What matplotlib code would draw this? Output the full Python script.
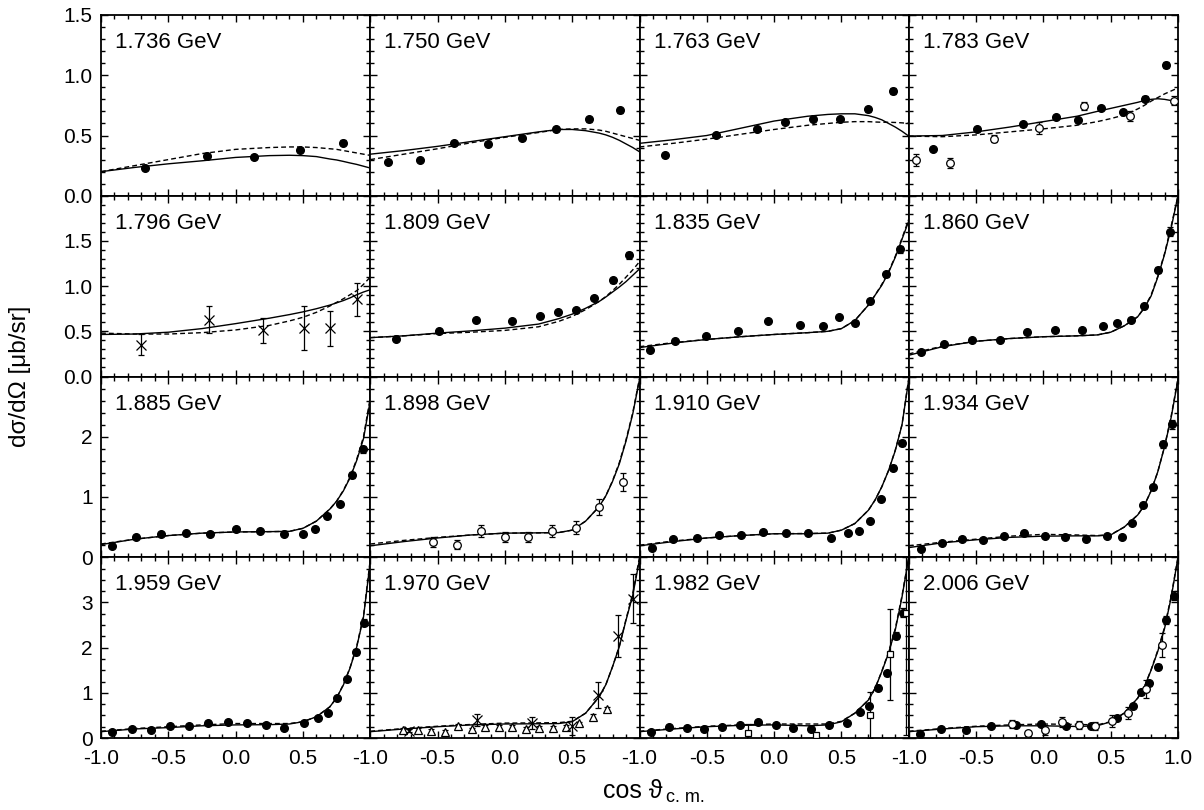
"""
eta photoproduction style grid: dσ/dΩ vs cos θ for 16 energies.
"""

import numpy as np
import matplotlib.pyplot as plt
from matplotlib.ticker import MultipleLocator, FixedLocator, FixedFormatter

plt.rcParams['font.family'] = ['Liberation Sans', 'DejaVu Sans']

# ============================================
# Data
# ============================================

energies = ["1.736", "1.750", "1.763", "1.783",
            "1.796", "1.809", "1.835", "1.860",
            "1.885", "1.898", "1.910", "1.934",
            "1.959", "1.970", "1.982", "2.006"]

row_ymax = [1.5, 2.0, 3.0, 4.0]

curve_x = [-1.0, -0.75, -0.5, -0.25, 0.0, 0.25, 0.4, 0.5,
           0.6, 0.7, 0.75, 0.8, 0.85, 0.9, 0.95, 1.0]

solid_y = [
    [0.20, 0.235, 0.265, 0.29, 0.318, 0.333, 0.336, 0.333, 0.325, 0.305, 0.297, 0.285, 0.272, 0.26, 0.245, 0.23],
    [0.345, 0.375, 0.41, 0.45, 0.49, 0.53, 0.55, 0.55, 0.54, 0.52, 0.505, 0.485, 0.46, 0.43, 0.40, 0.365],
    [0.435, 0.465, 0.50, 0.56, 0.62, 0.66, 0.675, 0.68, 0.68, 0.665, 0.65, 0.63, 0.60, 0.57, 0.535, 0.495],
    [0.495, 0.50, 0.53, 0.57, 0.615, 0.66, 0.70, 0.725, 0.75, 0.775, 0.79, 0.80, 0.805, 0.80, 0.79, 0.77],
    [0.465, 0.47, 0.49, 0.53, 0.585, 0.645, 0.685, 0.715, 0.75, 0.79, 0.815, 0.84, 0.87, 0.905, 0.935, 0.96],
    [0.43, 0.45, 0.48, 0.505, 0.535, 0.58, 0.64, 0.69, 0.755, 0.83, 0.88, 0.935, 0.99, 1.05, 1.12, 1.19],
    [0.32, 0.37, 0.41, 0.44, 0.465, 0.485, 0.50, 0.53, 0.62, 0.79, 0.90, 1.01, 1.15, 1.32, 1.52, 1.72],
    [0.235, 0.33, 0.39, 0.42, 0.44, 0.45, 0.46, 0.49, 0.56, 0.66, 0.76, 0.89, 1.10, 1.35, 1.65, 2.0],
    [0.21, 0.30, 0.36, 0.40, 0.42, 0.425, 0.43, 0.48, 0.60, 0.80, 0.93, 1.10, 1.32, 1.61, 1.97, 2.6],
    [0.19, 0.26, 0.32, 0.37, 0.40, 0.405, 0.41, 0.45, 0.60, 0.84, 1.02, 1.26, 1.55, 1.93, 2.38, 2.95],
    [0.19, 0.26, 0.32, 0.36, 0.39, 0.39, 0.40, 0.45, 0.56, 0.78, 0.95, 1.17, 1.44, 1.77, 2.2, 2.95],
    [0.16, 0.24, 0.29, 0.33, 0.35, 0.355, 0.355, 0.37, 0.50, 0.70, 0.86, 1.10, 1.42, 1.83, 2.33, 2.95],
    [0.14, 0.20, 0.23, 0.27, 0.29, 0.295, 0.31, 0.36, 0.47, 0.69, 0.89, 1.17, 1.55, 2.02, 2.68, 3.9],
    [0.14, 0.20, 0.25, 0.29, 0.31, 0.315, 0.32, 0.36, 0.55, 0.91, 1.18, 1.58, 2.02, 2.61, 3.16, 3.95],
    [0.14, 0.20, 0.25, 0.28, 0.29, 0.27, 0.29, 0.36, 0.55, 0.84, 1.10, 1.47, 1.88, 2.39, 3.12, 4.0],
    [0.14, 0.20, 0.25, 0.27, 0.27, 0.255, 0.27, 0.36, 0.55, 0.88, 1.13, 1.50, 1.92, 2.42, 3.12, 4.0],
]

dashed_y = [
    [0.20, 0.25, 0.30, 0.35, 0.385, 0.40, 0.405, 0.405, 0.40, 0.39, 0.385, 0.375, 0.365, 0.355, 0.345, 0.335],
    [0.30, 0.345, 0.39, 0.44, 0.485, 0.525, 0.55, 0.555, 0.555, 0.545, 0.535, 0.52, 0.505, 0.49, 0.475, 0.46],
    [0.405, 0.435, 0.47, 0.51, 0.55, 0.585, 0.60, 0.61, 0.615, 0.615, 0.612, 0.61, 0.61, 0.608, 0.605, 0.60],
    [0.495, 0.49, 0.505, 0.53, 0.555, 0.585, 0.615, 0.64, 0.67, 0.72, 0.75, 0.785, 0.815, 0.845, 0.87, 0.895],
    [0.48, 0.47, 0.47, 0.485, 0.515, 0.565, 0.615, 0.655, 0.71, 0.78, 0.82, 0.86, 0.905, 0.95, 1.02, 1.10],
    [0.43, 0.45, 0.475, 0.49, 0.51, 0.55, 0.61, 0.665, 0.74, 0.83, 0.885, 0.95, 1.02, 1.10, 1.18, 1.27],
    [0.33, 0.375, 0.41, 0.44, 0.465, 0.485, 0.50, 0.53, 0.62, 0.79, 0.90, 1.02, 1.16, 1.33, 1.53, 1.74],
    [0.25, 0.335, 0.39, 0.42, 0.44, 0.45, 0.46, 0.49, 0.56, 0.66, 0.76, 0.90, 1.11, 1.36, 1.67, 2.0],
    [0.22, 0.30, 0.36, 0.40, 0.42, 0.425, 0.43, 0.48, 0.60, 0.80, 0.93, 1.11, 1.33, 1.63, 2.0, 2.65],
    [0.22, 0.28, 0.33, 0.37, 0.40, 0.405, 0.41, 0.45, 0.60, 0.84, 1.02, 1.27, 1.57, 1.95, 2.40, 2.97],
    [0.20, 0.27, 0.32, 0.36, 0.39, 0.395, 0.40, 0.45, 0.56, 0.78, 0.95, 1.17, 1.44, 1.78, 2.2, 2.97],
    [0.19, 0.25, 0.30, 0.35, 0.38, 0.37, 0.36, 0.375, 0.50, 0.70, 0.86, 1.10, 1.42, 1.84, 2.35, 2.97],
    [0.15, 0.21, 0.25, 0.29, 0.32, 0.32, 0.32, 0.36, 0.47, 0.69, 0.89, 1.18, 1.56, 2.04, 2.70, 3.95],
    [0.15, 0.21, 0.26, 0.30, 0.33, 0.335, 0.34, 0.37, 0.55, 0.91, 1.18, 1.58, 2.03, 2.63, 3.20, 4.0],
    [0.15, 0.21, 0.26, 0.29, 0.31, 0.31, 0.31, 0.37, 0.55, 0.84, 1.10, 1.48, 1.90, 2.42, 3.15, 4.0],
    [0.15, 0.21, 0.26, 0.29, 0.31, 0.30, 0.29, 0.36, 0.55, 0.88, 1.13, 1.51, 1.94, 2.45, 3.15, 4.0],
]

# filled circles (x, y, err) per panel
filled_x = [
    [-0.67, -0.21, 0.137, 0.48, 0.80],
    [-0.865, -0.63, -0.377, -0.127, 0.125, 0.378, 0.628, 0.856],
    [-0.81, -0.433, -0.129, 0.082, 0.287, 0.49, 0.696, 0.88],
    [-0.82, -0.49, -0.155, 0.093, 0.26, 0.43, 0.59, 0.756, 0.91],
    [],
    [-0.81, -0.487, -0.214, 0.056, 0.26, 0.393, 0.529, 0.665, 0.80, 0.923],
    [-0.92, -0.736, -0.505, -0.27, -0.042, 0.193, 0.366, 0.485, 0.60, 0.713, 0.832, 0.936],
    [-0.91, -0.735, -0.527, -0.321, -0.118, 0.088, 0.29, 0.442, 0.546, 0.65, 0.751, 0.85, 0.942],
    [-0.916, -0.74, -0.557, -0.371, -0.188, 0.0, 0.18, 0.362, 0.5, 0.59, 0.68, 0.776, 0.862, 0.944],
    [],
    [-0.909, -0.748, -0.574, -0.409, -0.245, -0.08, 0.087, 0.255, 0.421, 0.548, 0.63, 0.713, 0.797, 0.882, 0.953],
    [-0.91, -0.754, -0.603, -0.45, -0.296, -0.143, 0.011, 0.162, 0.318, 0.472, 0.583, 0.662, 0.739, 0.814, 0.892, 0.959],
    [-0.916, -0.77, -0.631, -0.487, -0.344, -0.203, -0.059, 0.082, 0.224, 0.362, 0.506, 0.614, 0.684, 0.756, 0.825, 0.894, 0.956],
    [],
    [-0.916, -0.78, -0.649, -0.518, -0.384, -0.253, -0.121, 0.013, 0.143, 0.275, 0.411, 0.54, 0.639, 0.708, 0.77, 0.837, 0.906, 0.961],
    [-0.92, -0.759, -0.574, -0.39, -0.202, -0.019, 0.169, 0.355, 0.546, 0.669, 0.727, 0.788, 0.848, 0.912, 0.967],
]
filled_y = [
    [0.231, 0.33, 0.32, 0.378, 0.44],
    [0.281, 0.30, 0.44, 0.428, 0.48, 0.555, 0.633, 0.71],
    [0.337, 0.503, 0.558, 0.608, 0.64, 0.636, 0.716, 0.869],
    [0.392, 0.553, 0.592, 0.65, 0.628, 0.725, 0.697, 0.805, 1.082],
    [],
    [0.418, 0.502, 0.62, 0.61, 0.665, 0.713, 0.731, 0.872, 1.064, 1.34],
    [0.295, 0.391, 0.443, 0.506, 0.613, 0.573, 0.557, 0.657, 0.595, 0.834, 1.13, 1.407],
    [0.27, 0.355, 0.40, 0.40, 0.495, 0.51, 0.517, 0.554, 0.595, 0.628, 0.779, 1.18, 1.60],
    [0.187, 0.332, 0.387, 0.404, 0.392, 0.475, 0.442, 0.381, 0.392, 0.475, 0.685, 0.879, 1.36, 1.79],
    [],
    [0.155, 0.298, 0.326, 0.37, 0.37, 0.415, 0.403, 0.403, 0.326, 0.403, 0.436, 0.608, 0.973, 1.487, 1.90],
    [0.133, 0.243, 0.31, 0.293, 0.354, 0.403, 0.354, 0.337, 0.31, 0.354, 0.337, 0.575, 0.874, 1.166, 1.874, 2.206],
    [0.14, 0.206, 0.184, 0.272, 0.272, 0.324, 0.346, 0.324, 0.295, 0.228, 0.331, 0.449, 0.545, 0.877, 1.304, 1.90, 2.55],
    [],
    [0.14, 0.25, 0.228, 0.199, 0.25, 0.287, 0.36, 0.287, 0.228, 0.192, 0.28, 0.339, 0.582, 0.707, 1.112, 1.429, 2.26, 2.77],
    [0.088, 0.206, 0.177, 0.272, 0.287, 0.302, 0.272, 0.265, 0.435, 0.714, 1.01, 1.208, 1.576, 2.61, 3.145],
]
filled_e = [
    [0.015, 0.015, 0.015, 0.015, 0.02],
    [0.015, 0.015, 0.015, 0.015, 0.015, 0.015, 0.02, 0.02],
    [0.015, 0.015, 0.015, 0.015, 0.015, 0.015, 0.02, 0.025],
    [0.015, 0.015, 0.015, 0.015, 0.015, 0.015, 0.015, 0.02, 0.025],
    [],
    [0.015, 0.015, 0.015, 0.015, 0.015, 0.015, 0.015, 0.02, 0.025, 0.035],
    [0.02, 0.015, 0.015, 0.015, 0.015, 0.015, 0.015, 0.015, 0.015, 0.02, 0.03, 0.04],
    [0.02, 0.015, 0.015, 0.015, 0.015, 0.015, 0.015, 0.015, 0.015, 0.015, 0.02, 0.035, 0.05],
    [0.02, 0.02, 0.02, 0.02, 0.02, 0.02, 0.02, 0.02, 0.02, 0.02, 0.03, 0.03, 0.05, 0.06],
    [],
    [0.02, 0.02, 0.02, 0.02, 0.02, 0.02, 0.02, 0.02, 0.02, 0.02, 0.02, 0.02, 0.03, 0.04, 0.05],
    [0.02, 0.02, 0.02, 0.02, 0.02, 0.02, 0.02, 0.02, 0.02, 0.02, 0.02, 0.03, 0.03, 0.04, 0.06, 0.08],
    [0.03, 0.03, 0.03, 0.03, 0.03, 0.03, 0.03, 0.03, 0.03, 0.03, 0.03, 0.03, 0.03, 0.04, 0.05, 0.06, 0.08],
    [],
    [0.03, 0.03, 0.03, 0.03, 0.03, 0.03, 0.03, 0.03, 0.03, 0.03, 0.03, 0.03, 0.04, 0.05, 0.05, 0.06, 0.08, 0.1],
    [0.03, 0.03, 0.03, 0.03, 0.03, 0.03, 0.03, 0.03, 0.03, 0.04, 0.05, 0.05, 0.06, 0.08, 0.1],
]

# open circles: panel index -> (x, y, err)
open_pts = {
    3: ([-0.945, -0.69, -0.366, -0.03, 0.30, 0.64, 0.97],
        [0.30, 0.273, 0.475, 0.564, 0.744, 0.664, 0.79],
        [0.05, 0.04, 0.03, 0.05, 0.03, 0.04, 0.04]),
    9: ([-0.531, -0.353, -0.179, 0.0, 0.17, 0.348, 0.527, 0.70, 0.876],
        [0.254, 0.21, 0.436, 0.337, 0.337, 0.436, 0.492, 0.829, 1.249],
        [0.083, 0.07, 0.10, 0.09, 0.09, 0.10, 0.108, 0.133, 0.146]),
    15: ([-0.234, -0.111, 0.013, 0.137, 0.261, 0.385, 0.509, 0.632, 0.764, 0.88],
         [0.309, 0.103, 0.177, 0.36, 0.28, 0.265, 0.383, 0.56, 1.083, 2.055],
         [0.08, 0.06, 0.10, 0.11, 0.09, 0.09, 0.13, 0.13, 0.2, 0.26]),
}

# crosses
cross_pts = {
    4: ([-0.705, -0.2, 0.206, 0.508, 0.70, 0.90],
        [0.351, 0.628, 0.51, 0.535, 0.535, 0.853],
        [0.117, 0.148, 0.138, 0.24, 0.194, 0.18]),
    13: ([-0.71, -0.204, 0.2, 0.497, 0.695, 0.843, 0.95],
         [0.162, 0.398, 0.324, 0.265, 0.95, 2.254, 3.087],
         [0.03, 0.14, 0.13, 0.2, 0.295, 0.47, 0.55]),
}

# open triangles
tri_pts = {
    13: ([-0.754, -0.643, -0.548, -0.444, -0.345, -0.246, -0.147, -0.043,
          0.056, 0.155, 0.256, 0.356, 0.455, 0.553, 0.653, 0.757],
         [0.177, 0.177, 0.155, 0.133, 0.265, 0.192, 0.25, 0.25,
          0.25, 0.206, 0.221, 0.221, 0.25, 0.324, 0.472, 0.633],
         [0.04, 0.04, 0.04, 0.04, 0.04, 0.04, 0.04, 0.04,
          0.04, 0.04, 0.04, 0.04, 0.04, 0.04, 0.05, 0.05]),
}

# open squares
square_pts = {
    14: ([-0.195, 0.31, 0.713, 0.862, 0.98],
         [0.118, 0.066, 0.508, 1.85, 2.77],
         [0.2, 0.05, 0.5, 1.0, 2.7]),
}

# ============================================
# Plot
# ============================================

fig, axes = plt.subplots(4, 4, figsize=(12.04, 8.10), dpi=100)
fig.subplots_adjust(left=101 / 1204, right=1178 / 1204,
                    top=1 - 15 / 810, bottom=1 - 738 / 810,
                    wspace=0, hspace=0)

row_major = [0.5, 0.5, 1.0, 1.0]
row_minor = [0.1, 0.1, 0.2, 0.25]
row_fmt = ["{:.1f}", "{:.1f}", "{:.0f}", "{:.0f}"]

eb_kw = dict(ls="none", color="black", ecolor="black", elinewidth=0.9,
             capsize=2.5, capthick=0.9)

for i, ax in enumerate(axes.flat):
    r, c = divmod(i, 4)
    ymax = row_ymax[r]

    ax.plot(curve_x, solid_y[i], color="black", lw=1.0, zorder=3)
    ax.plot(curve_x, dashed_y[i], color="black", lw=1.0,
            ls=(0, (3.5, 2.2)), zorder=3)

    if filled_x[i]:
        ax.errorbar(filled_x[i], filled_y[i], yerr=filled_e[i], fmt="o",
                    ms=5.5, mfc="black", mec="black", zorder=5, **eb_kw)
    if i in open_pts:
        x, y, e = open_pts[i]
        ax.errorbar(x, y, yerr=e, fmt="o", ms=5.5, mfc="white",
                    mec="black", mew=0.9, zorder=6, **eb_kw)
    if i in cross_pts:
        x, y, e = cross_pts[i]
        ax.errorbar(x, y, yerr=e, fmt="x", ms=6.5, mec="black",
                    mew=0.9, zorder=6, **eb_kw)
    if i in tri_pts:
        x, y, e = tri_pts[i]
        ax.errorbar(x, y, yerr=e, fmt="^", ms=6, mfc="white",
                    mec="black", mew=0.9, zorder=5, **eb_kw)
    if i in square_pts:
        x, y, e = square_pts[i]
        ax.errorbar(x, y, yerr=e, fmt="s", ms=5, mfc="white",
                    mec="black", mew=0.9, zorder=6, **eb_kw)

    ax.set_xlim(-1, 1)
    ax.set_ylim(0, ymax)

    ax.text(0.052, 0.905, f"{energies[i]} GeV", transform=ax.transAxes,
            ha="left", va="top", fontsize=16)

    # ticks
    ax.xaxis.set_major_locator(FixedLocator([-1.0, -0.5, 0.0, 0.5, 1.0]))
    ax.xaxis.set_minor_locator(MultipleLocator(0.1))
    yt = list(np.arange(0, ymax + 1e-9, row_major[r]))
    ax.yaxis.set_major_locator(FixedLocator(yt))
    ax.yaxis.set_minor_locator(MultipleLocator(row_minor[r]))
    ax.tick_params(which="both", direction="in", top=True, right=True,
                   labelsize=15, width=1.0)
    ax.tick_params(axis="y", pad=6)
    ax.tick_params(axis="x", pad=8)
    ax.tick_params(which="major", length=5)
    ax.tick_params(which="minor", length=3)

    if c == 0:
        ylabels = [row_fmt[r].format(v) for v in yt]
        if r > 0:
            ylabels[-1] = ""
        ax.yaxis.set_major_formatter(FixedFormatter(ylabels))
    else:
        ax.tick_params(labelleft=False)

    if r == 3:
        xlabels = ["-1.0", "-0.5", "0.0", "0.5", "1.0" if c == 3 else ""]
        ax.xaxis.set_major_formatter(FixedFormatter(xlabels))
    else:
        ax.tick_params(labelbottom=False)

    for s in ax.spines.values():
        s.set_linewidth(1.3)

fig.text(0.017, 1 - 376 / 810, "dσ/dΩ [μb/sr]", rotation=90,
         ha="center", va="center", fontsize=17.5)
fig.text(603 / 1204, 1 - 791 / 810, "cos ϑ", ha="left", va="center",
         fontsize=18)
fig.text(666 / 1204, 1 - 798 / 810, "c. m.", ha="left", va="center",
         fontsize=13)

fig.savefig("out.png", dpi=100)
